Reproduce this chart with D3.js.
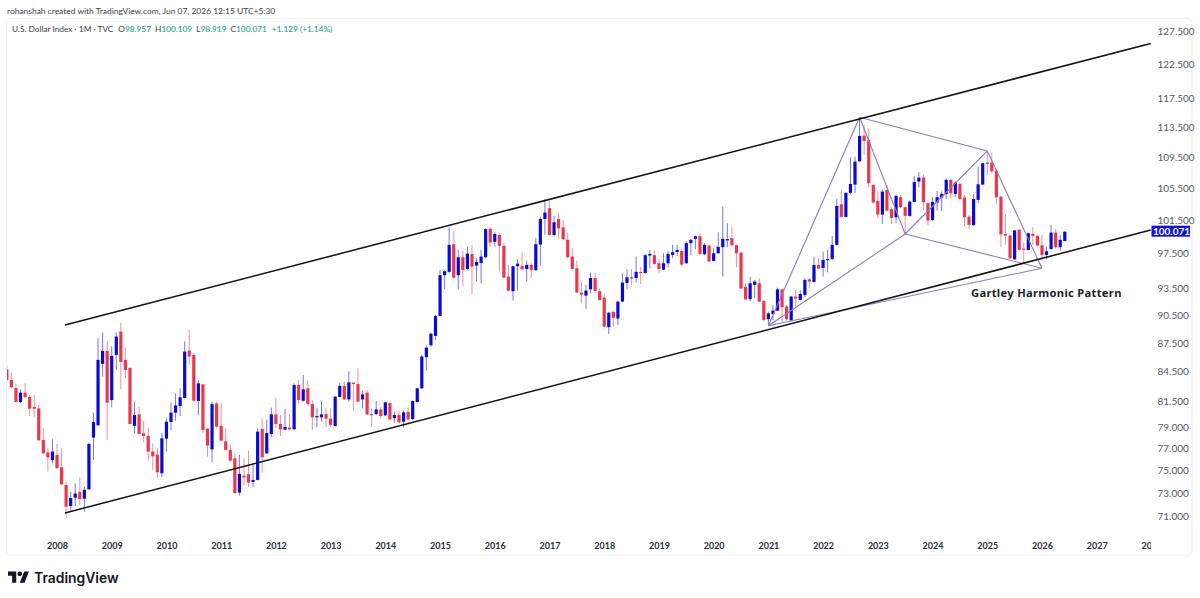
<!DOCTYPE html>
<html>
<head>
<meta charset="utf-8">
<script src="https://d3js.org/d3.v7.min.js"></script>
<style>
  html, body { margin: 0; padding: 0; background: #ffffff; }
  svg { display: block; }
</style>
</head>
<body>
<script>
const width = 1200
const height = 598
const bull_color = "#0a0ad6"
const bear_color = "#e9384c"
const line_color = "#111111"
const pattern_color = "#8a7cc4"
const quote_color = "#089981"
const ui_font = "Lato, 'Open Sans', sans-serif"

// monthly candles, first one is Feb 2007
const firstYear = 2007
const firstMonth = 1
const opens = [
  84.76,83.67,82.86,81.47,82.40,81.97,80.99,80.85,77.82,76.67,75.97,
  76.43,75.30,73.71,71.86,72.59,73.10,72.50,73.33,78.05,79.22,85.31,86.66,
  81.67,86.24,88.70,85.72,84.89,79.16,80.27,78.45,78.20,76.74,76.46,74.76,
  77.95,79.53,80.43,81.08,81.87,86.69,86.24,81.57,83.23,78.90,76.95,81.34,
  79.16,77.70,76.89,76.12,73.04,74.55,74.67,73.98,74.16,78.87,76.58,78.39,
  80.27,79.34,78.80,79.00,78.83,83.16,81.60,82.83,81.28,79.98,79.98,80.30,
  79.85,79.15,81.97,83.07,81.73,83.40,83.26,81.73,82.40,80.30,80.30,80.75,
  80.17,81.37,79.91,80.20,79.56,80.50,79.82,81.47,82.83,86.00,87.25,88.24,
  90.39,94.95,95.33,98.57,94.95,97.03,95.67,97.42,96.06,96.37,97.03,100.42,
  98.85,99.68,98.37,94.79,93.13,95.98,96.02,95.67,96.13,95.52,98.53,101.62,
  102.95,99.68,101.62,100.59,99.09,97.11,95.75,92.98,92.64,93.35,94.63,93.13,
  92.41,89.17,90.83,90.11,91.97,94.07,94.71,94.63,95.33,95.21,97.23,97.27,
  96.33,95.59,96.33,97.30,97.65,97.77,96.33,98.69,99.21,99.52,97.38,98.41,
  96.60,97.50,98.21,99.05,99.29,98.45,97.58,93.62,92.26,93.84,94.03,92.04,
  90.04,90.61,90.97,93.35,91.42,89.89,92.53,92.15,92.71,94.48,94.18,96.13,
  95.79,96.76,96.83,98.49,103.44,101.87,104.87,105.92,108.94,112.37,111.79,105.88,
  103.86,102.16,105.24,102.82,101.83,104.32,103.07,102.00,103.73,106.31,106.82,103.57,
  101.50,103.65,104.28,104.70,106.53,104.74,106.00,104.28,101.91,100.86,103.98,105.92,
  108.77,108.77,107.72,104.40,99.80,99.60,96.79,100.30,98.05,97.89,99.80,99.56,
  98.45,97.30,98.00,99.96,98.21,98.957
]
const highs = [
  85.20,84.42,83.26,82.73,83.33,82.17,82.17,81.18,78.93,77.05,77.89,
  77.45,77.05,74.01,73.10,73.86,74.40,73.56,77.58,80.43,87.99,88.59,87.74,
  87.11,88.59,89.68,87.00,85.00,81.51,81.01,79.62,79.02,77.51,77.05,78.51,
  79.88,81.41,82.33,82.83,87.65,88.88,86.41,83.67,83.26,78.93,81.51,81.51,
  81.41,78.93,77.42,76.58,76.43,76.12,76.83,75.51,78.93,79.88,79.78,80.92,
  81.90,80.20,80.79,80.27,83.33,83.67,84.18,83.60,81.67,80.85,81.57,80.85,
  80.85,82.07,83.40,83.50,84.52,83.40,84.86,82.60,82.66,80.85,81.57,81.02,
  81.51,81.44,80.53,80.62,80.62,80.95,81.60,82.90,86.24,87.22,88.59,90.46,
  95.56,95.56,100.63,100.12,97.89,97.81,98.29,98.49,96.91,97.89,100.50,100.63,
  99.96,99.88,98.69,96.13,96.06,96.79,97.62,96.60,96.41,99.29,101.91,104.10,
  103.90,102.00,102.32,101.50,99.96,98.09,96.64,94.22,93.84,95.25,95.25,93.47,
  92.81,90.83,90.97,92.08,95.17,95.63,95.67,97.11,95.86,97.40,97.89,97.81,
  96.79,97.50,97.77,98.49,98.49,97.97,98.89,99.21,99.60,99.88,98.69,98.49,
  98.09,100.00,103.15,101.10,100.71,98.49,97.65,94.03,94.79,94.41,94.60,92.15,
  90.86,91.60,93.54,93.43,91.60,92.60,93.28,93.28,94.60,94.60,97.11,96.91,
  97.69,97.89,99.56,104.10,105.24,104.95,109.46,109.56,114.89,113.83,113.37,106.00,
  105.03,105.24,105.88,103.15,104.61,104.61,103.20,103.90,107.03,107.52,107.16,103.65,
  104.32,105.11,105.03,106.71,106.67,106.31,106.22,104.61,102.12,104.70,108.25,108.77,
  110.31,110.09,107.89,104.50,102.24,99.68,100.30,100.38,98.77,99.96,100.63,99.68,
  99.68,98.29,100.90,100.38,99.68,100.109
]
const lows = [
  83.50,82.83,81.41,81.34,81.83,80.10,80.04,77.76,76.52,74.91,75.67,
  75.21,73.71,70.80,71.46,71.86,71.95,71.37,73.27,75.97,79.16,84.01,77.82,
  80.95,84.69,82.73,83.84,79.34,78.45,78.36,77.58,75.91,75.06,74.37,74.40,
  76.74,78.77,79.66,80.10,81.83,85.20,81.51,80.20,78.51,76.28,75.76,78.93,
  77.67,76.89,75.82,72.98,72.77,73.60,73.56,73.56,74.10,74.82,76.52,78.08,
  78.93,78.20,78.77,78.74,78.77,81.27,81.51,81.18,78.77,79.02,79.56,79.02,
  79.09,79.09,81.93,81.67,81.51,80.62,81.44,80.85,80.20,79.09,80.20,79.88,
  80.10,79.72,79.47,79.41,79.02,79.72,79.72,81.41,82.77,84.62,87.11,87.82,
  90.39,93.35,95.17,94.52,93.35,93.73,95.56,92.79,94.22,94.03,96.91,98.29,
  98.29,95.37,94.60,93.09,92.08,93.20,95.56,94.22,94.60,95.48,96.06,99.68,
  99.60,99.56,99.17,99.01,96.91,95.63,92.90,91.78,91.16,92.90,92.98,92.08,
  89.17,88.45,89.17,89.42,91.89,93.35,93.84,94.11,93.96,95.10,95.75,96.17,
  95.17,95.56,95.86,96.91,97.19,96.02,96.25,97.30,97.97,97.30,97.30,96.45,
  96.53,97.42,94.79,98.21,98.29,95.86,93.39,92.15,91.97,92.34,91.89,89.78,
  89.42,89.96,90.97,89.78,89.89,89.89,91.42,92.08,92.45,93.47,94.11,95.63,
  94.79,95.29,96.72,98.41,101.79,101.79,104.75,104.82,108.90,109.78,105.58,103.57,
  101.71,101.02,102.53,101.02,101.10,102.95,99.80,101.91,103.65,105.54,102.73,100.90,
  101.41,102.65,102.61,104.07,104.19,104.32,103.98,100.71,100.38,100.78,103.57,105.88,
  107.16,107.37,103.44,98.21,98.49,96.79,96.72,97.77,96.41,97.81,98.49,98.29,
  96.64,96.79,97.89,98.09,97.81,98.919
]
const closes = [
  83.67,82.93,81.47,82.40,81.97,80.82,80.82,77.79,76.58,76.22,76.74,
  75.21,73.77,71.80,72.56,72.95,72.47,73.27,77.45,79.53,85.72,86.66,81.41,
  86.14,88.17,85.51,84.69,79.34,80.20,78.39,78.20,76.74,76.31,74.85,77.98,
  79.56,80.43,81.14,81.94,86.58,86.07,81.60,83.33,78.77,77.30,81.27,79.09,
  77.76,76.89,75.91,72.98,74.70,74.37,73.92,74.16,78.61,76.22,78.48,80.27,
  79.34,78.83,79.06,78.83,83.16,81.67,82.73,81.28,79.98,80.10,80.27,79.85,
  79.25,82.00,83.07,81.73,83.43,83.26,81.51,82.23,80.27,80.20,80.75,80.10,
  81.44,79.78,80.20,79.50,80.46,79.78,81.57,82.83,86.07,87.00,88.48,90.39,
  94.95,95.40,98.49,94.67,97.03,95.56,97.46,95.94,96.49,97.11,100.38,98.77,
  99.80,98.37,94.67,93.20,95.98,96.29,95.63,96.13,95.56,98.57,101.62,102.41,
  99.68,101.22,100.47,99.17,97.03,95.67,92.98,92.75,93.20,94.63,93.16,92.15,
  89.24,90.75,90.18,91.97,94.11,94.71,94.56,95.33,95.25,97.27,97.42,96.25,
  95.67,96.33,97.42,97.62,97.89,96.17,98.69,99.09,99.52,97.42,98.49,96.53,
  97.50,98.25,99.21,99.17,98.45,97.50,93.43,92.22,94.03,94.22,91.97,89.96,
  90.68,90.97,93.35,91.35,90.04,92.53,92.30,92.82,94.41,94.22,96.13,95.71,
  96.72,96.83,98.49,103.23,101.87,104.87,106.00,108.90,112.33,111.65,106.09,103.65,
  102.16,105.03,102.65,101.75,104.49,103.07,102.00,103.77,106.27,106.82,103.69,101.43,
  103.73,104.32,104.74,106.53,104.82,106.18,104.10,101.83,100.90,104.10,105.96,108.69,
  108.60,107.63,104.32,99.76,99.60,96.91,100.22,97.89,97.97,99.88,99.56,98.41,
  97.30,97.73,99.96,98.21,99.09,100.071
]

const priceTicks = [71, 73, 75, 77, 79, 81.5, 84.5, 87.5, 90.5, 93.5, 97.5, 101.5, 105.5, 109.5, 113.5, 117.5, 122.5, 127.5]
const yearTicks = d3.range(2008, 2029)

// drawn lines, as [decimal year, price]
const upperChannel = [[2008.146, 89.41], [2027.987, 125.6]]
const lowerChannel = [[2008.146, 71.26], [2027.987, 100.27]]
const patternX = [2021, 89.33]
const patternA = [2022.667, 114.89]
const patternB = [2023.5, 99.79]
const patternC = [2025, 110.31]
const patternD = [2026, 95.75]
const patternLegs = [
  [patternX, patternA], [patternA, patternB], [patternB, patternX],
  [patternB, patternC], [patternC, patternD], [patternD, patternB],
  [patternX, patternD], [patternA, patternC]
]

const lastPrice = closes[closes.length - 1]

const x = d3.scaleLinear().domain([2008, 2027]).range([57, 1096.7])
const y = d3.scaleLog().domain([71, 127.5]).range([516, 31])

const svg = d3.select("body").append("svg")
                             .attr("width", width)
                             .attr("height", height)
                             .style("font-family", ui_font)

svg.append("rect").attr("width", width).attr("height", height).style("fill", "#ffffff")

svg.append("clipPath").attr("id", "pane")
   .append("rect").attr("x", 7).attr("y", 19).attr("width", 1144).attr("height", 536)

// panel frame
svg.append("rect")
   .attr("x", 6.5).attr("y", 18.5)
   .attr("width", 1185.5).attr("height", 536.5)
   .attr("rx", 4)
   .style("fill", "none")
   .style("stroke", "#f1f1f1")

// candles
const candles = opens.map((open, i) => ({
  date: firstYear + (firstMonth + i) / 12,
  open: open, high: highs[i], low: lows[i], close: closes[i]
}))

const pane = svg.append("g").attr("clip-path", "url(#pane)")

pane.selectAll("line.wick").data(candles).enter().append("line")
    .attr("class", "wick")
    .attr("x1", d => x(d.date)).attr("x2", d => x(d.date))
    .attr("y1", d => y(d.high)).attr("y2", d => y(d.low))
    .style("stroke", d => d.close >= d.open ? bull_color : bear_color)
    .style("stroke-width", 1)
    .style("opacity", 0.55)

pane.selectAll("rect.body").data(candles).enter().append("rect")
    .attr("class", "body")
    .attr("x", d => x(d.date) - 1.6)
    .attr("width", 3.2)
    .attr("y", d => y(Math.max(d.open, d.close)))
    .attr("height", d => Math.max(1.2, Math.abs(y(d.open) - y(d.close))))
    .style("fill", d => d.close >= d.open ? bull_color : bear_color)

// pattern and channel
const line = d3.line().x(d => x(d[0])).y(d => y(d[1]))

pane.selectAll("path.leg").data(patternLegs).enter().append("path")
    .attr("class", "leg")
    .attr("d", line)
    .style("fill", "none")
    .style("stroke", pattern_color)
    .style("stroke-width", 1.1)

pane.selectAll("path.channel").data([upperChannel, lowerChannel]).enter().append("path")
    .attr("class", "channel")
    .attr("d", line)
    .style("fill", "none")
    .style("stroke", line_color)
    .style("stroke-width", 1.5)

svg.append("text")
   .attr("x", 971).attr("y", 297)
   .style("font-family", "'Noto Sans', sans-serif")
   .style("font-size", "11.2px")
   .style("font-weight", "700")
   .style("letter-spacing", "0.3px")
   .style("fill", "#1b1f2a")
   .text("Gartley Harmonic Pattern")

// axes
const priceAxis = d3.axisRight(y)
  .tickValues(priceTicks)
  .tickFormat(d3.format(".3f"))
  .tickSize(0)
  .tickPadding(0)

const priceG = svg.append("g")
  .attr("transform", "translate(1157.5,0)")
  .call(priceAxis)
priceG.select(".domain").remove()
priceG.selectAll("text")
  .style("font-family", ui_font)
  .style("font-size", "10px")
  .style("fill", "#555a64")

const yearAxis = d3.axisBottom(x)
  .tickValues(yearTicks)
  .tickFormat(d3.format("d"))
  .tickSize(0)
  .tickPadding(0)

const yearG = svg.append("g")
  .attr("clip-path", "url(#pane)")
  .append("g")
  .attr("transform", "translate(0,542.5)")
  .call(yearAxis)
yearG.select(".domain").remove()
yearG.selectAll("text")
  .style("font-family", ui_font)
  .style("font-size", "9px")
  .style("font-weight", "bold")
  .style("fill", "#2a2e39")

// last price tag
svg.append("rect")
   .attr("x", 1151.5).attr("y", y(lastPrice) - 6)
   .attr("width", 38.5).attr("height", 11)
   .style("fill", "#1010d8")
svg.append("text")
   .attr("x", 1171.5).attr("y", y(lastPrice) + 3.3)
   .attr("text-anchor", "middle")
   .style("font-size", "10px")
   .style("font-weight", "bold")
   .style("fill", "#ffffff")
   .text(d3.format(".3f")(lastPrice))

// header
svg.append("text")
   .attr("x", 7).attr("y", 13.5)
   .style("font-size", "8.45px")
   .style("fill", "#3a3e48")
   .text("rohanshah created with TradingView.com, Jun 07, 2026 12:15 UTC+5:30")

const legend = svg.append("text")
   .attr("x", 12).attr("y", 32)
   .style("font-size", "8.3px")
   .style("fill", "#3a3e48")
legend.append("tspan").text("U.S. Dollar Index · 1M · TVC")
const quoteParts = [["O", opens], ["H", highs], ["L", lows], ["C", closes]]
quoteParts.forEach((part, i) => {
  legend.append("tspan").attr("dx", i == 0 ? 5 : 4).text(part[0])
  legend.append("tspan").style("fill", quote_color).text(d3.format(".3f")(part[1][part[1].length - 1]))
})
legend.append("tspan").attr("dx", 5).style("fill", quote_color).text("+1.129 (+1.14%)")

// tradingview logo
svg.append("path")
   .attr("transform", "translate(8,571.5) scale(0.59)")
   .attr("d", "M14 19H7V7H0V0h14v19zM28 19h-8L27.5 0h8L28 19z")
   .style("fill", "#131722")
svg.append("circle")
   .attr("cx", 8 + 20 * 0.59).attr("cy", 571.5 + 4 * 0.59).attr("r", 4 * 0.59)
   .style("fill", "#131722")
svg.append("text")
   .attr("x", 34).attr("y", 582.5)
   .style("font-family", "Inter, sans-serif")
   .style("font-size", "13.9px")
   .style("font-weight", "600")
   .style("fill", "#131722")
   .text("TradingView")
</script>
</body>
</html>
